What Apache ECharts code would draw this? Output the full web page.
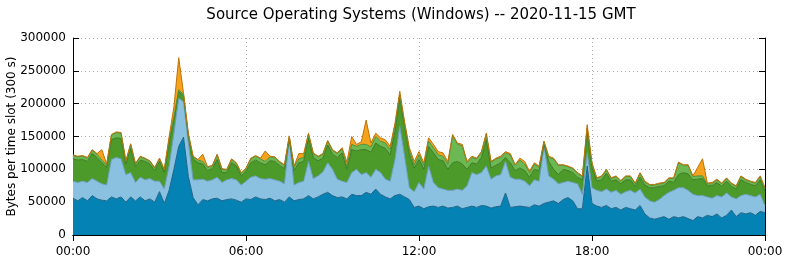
<!DOCTYPE html>
<html>
<head>
<meta charset="utf-8">
<script src="https://cdn.jsdelivr.net/npm/echarts@6/dist/echarts.min.js"></script>
<style>
html,body{margin:0;padding:0;background:#fff;}
#chart{width:786px;height:261px;}
</style>
</head>
<body>
<div id="chart"></div>
<script>
// Chart title / labels
var chartTitle = 'Source Operating Systems (Windows) -- 2020-11-15 GMT';
var yAxisTitle = 'Bytes per time slot (300 s)';
var xTickLabels = ['00:00', '06:00', '12:00', '18:00', '00:00'];

// Layer values (thousands of bytes) at 10-minute steps, 00:00 .. 24:00
var darkBlue = [56,52,57,52,60,55,53,52,58,55,58,50,58,52,58,52,55,50,66,48,68,100,135,149,89,57,46,54,52,55,56,52,54,55,53,50,55,54,58,55,54,56,52,54,50,58,52,54,55,60,55,58,62,65,60,57,58,55,62,60,60,65,62,70,62,58,55,60,62,58,54,42,44,40,43,44,42,44,41,42,44,40,42,44,42,45,44,41,43,44,64,42,43,44,43,42,46,44,48,50,52,48,54,57,52,40,40,105,48,44,42,45,40,42,38,42,40,38,45,32,26,24,26,28,24,28,26,28,25,22,28,26,30,28,32,26,30,38,28,34,32,34,30,36,34];
var lightBlue = [26,28,25,28,26,27,25,24,57,63,58,42,37,28,30,32,31,32,16,22,37,55,73,54,51,27,38,31,30,29,32,28,30,31,31,26,27,34,32,31,31,30,32,28,28,87,24,26,27,52,31,32,34,45,40,28,24,25,33,40,32,30,26,30,33,27,27,55,104,62,18,24,36,30,62,36,30,26,27,26,26,28,33,51,50,50,61,44,47,48,48,46,42,41,39,33,38,38,87,40,33,30,26,25,28,38,22,20,24,24,24,25,25,26,24,24,28,26,25,26,26,26,28,32,41,40,46,44,43,40,32,34,28,28,28,32,34,20,27,26,30,26,28,26,11];
var darkGreen = [34,34,33,32,38,36,32,27,30,30,31,16,37,24,26,28,22,16,30,25,35,20,10,9,10,32,26,23,16,17,27,15,11,24,21,14,15,22,24,24,22,27,28,24,23,1,22,30,30,36,32,23,21,27,23,33,43,20,35,28,38,35,38,40,40,47,40,43,42,45,50,36,35,30,30,45,43,43,32,42,42,40,25,15,16,23,40,17,16,18,6,22,13,17,16,13,16,16,3,22,15,14,20,16,15,10,22,30,30,14,18,24,17,16,16,18,16,10,18,18,20,22,20,15,17,12,20,23,25,22,25,26,17,19,20,16,18,16,15,24,18,17,17,22,21];
var lightGreen = [5,5,5,5,5,5,4,4,7,8,8,4,6,4,5,4,4,4,4,4,5,5,3,2,3,3,4,4,5,4,7,5,4,5,4,4,4,6,6,6,5,6,6,5,5,4,6,6,6,6,6,6,6,6,6,6,6,4,8,7,8,8,8,10,8,8,8,8,6,5,6,5,7,6,8,8,7,7,8,42,26,28,10,8,8,8,9,9,10,8,7,12,8,12,10,7,8,5,4,6,16,14,6,6,6,6,5,8,6,4,5,5,4,5,4,5,5,4,6,5,4,4,4,4,4,6,18,11,13,5,5,4,3,3,4,4,4,4,4,5,4,4,4,5,4];
var orange = [1,1,1,1,1,1,16,1,1,1,1,1,1,1,1,1,1,1,1,1,5,15,49,2,2,1,1,11,1,1,1,1,1,1,1,1,1,1,1,1,16,1,1,1,1,1,1,8,6,1,1,1,1,1,1,1,2,7,12,3,4,37,6,5,5,5,5,4,5,2,5,5,5,4,5,5,5,5,4,1,2,2,2,2,1,1,1,1,1,2,2,2,1,3,4,2,2,2,1,2,1,1,1,1,1,1,1,5,2,1,1,1,1,1,1,1,1,1,1,1,1,1,1,1,1,1,1,1,1,1,13,26,1,2,1,1,1,1,1,1,1,1,1,1,2];

var stepMinutes = 10;
var slotsPerTick = 36; // 6 hours / 10 minutes
var times = darkBlue.map(function (_, i) { return i * stepMinutes; });
var categories = times.map(function (t) {
  var h = Math.floor(t / 60) % 24, m = t % 60;
  return (h < 10 ? '0' : '') + h + ':' + (m < 10 ? '0' : '') + m;
});

var layers = [
  { name: 'darkBlue', data: darkBlue, fill: '#0582b4', line: '#1b6386' },
  { name: 'lightBlue', data: lightBlue, fill: '#8ac0e0', line: '#6b9dbc' },
  { name: 'darkGreen', data: darkGreen, fill: '#4c9a2a', line: '#3b7a22' },
  { name: 'lightGreen', data: lightGreen, fill: '#6cb852', line: '#4f8f3a' },
  { name: 'orange', data: orange, fill: '#f5a31c', line: '#c07208' }
];

var font = 'DejaVu Sans';
var chart = echarts.init(document.getElementById('chart'), null, { renderer: 'canvas' });

function onTick(index) { return index % slotsPerTick === 0; }

var option = {
  animation: false,
  backgroundColor: '#ffffff',
  title: {
    text: chartTitle,
    left: 416,
    textAlign: 'center',
    top: 3,
    textStyle: { fontFamily: font, fontSize: 15, fontWeight: 'normal', color: '#000' }
  },
  grid: { left: 73, right: 21, top: 38, bottom: 26, containLabel: false, outerBoundsMode: 'none' },
  xAxis: [{
    type: 'category', data: categories, boundaryGap: false,
    axisLine: { show: true, lineStyle: { color: '#000', width: 1 } },
    axisTick: { show: true, inside: true, length: 6, interval: onTick, lineStyle: { color: '#000' } },
    axisLabel: { interval: onTick, fontFamily: font, fontSize: 12, color: '#000', margin: 11 },
    splitLine: { show: true, interval: onTick, lineStyle: { color: '#aaaaaa', type: [1, 3], width: 1 } }
  }, {
    type: 'category', data: categories, boundaryGap: false, position: 'top',
    axisLine: { show: true, lineStyle: { color: '#000', width: 1 } },
    axisTick: { show: true, inside: true, length: 6, interval: onTick, lineStyle: { color: '#000' } },
    axisLabel: { show: false },
    splitLine: { show: false }
  }],
  yAxis: [{
    type: 'value', min: 0, max: 300000, interval: 50000,
    name: yAxisTitle, nameLocation: 'middle', nameGap: 55, nameMoveOverlap: false,
    nameTextStyle: { fontFamily: font, fontSize: 12, color: '#000' },
    axisLine: { show: true, lineStyle: { color: '#000', width: 1 } },
    axisTick: { show: true, inside: true, length: 6, lineStyle: { color: '#000' } },
    axisLabel: { fontFamily: font, fontSize: 12, color: '#000', margin: 7,
      formatter: function (v) { return String(v); } },
    splitLine: { show: true, lineStyle: { color: '#aaaaaa', type: [1, 3], width: 1 } }
  }, {
    type: 'value', min: 0, max: 300000, interval: 50000, position: 'right',
    axisLine: { show: true, lineStyle: { color: '#000', width: 1 } },
    axisTick: { show: true, inside: true, length: 6, lineStyle: { color: '#000' } },
    axisLabel: { show: false },
    splitLine: { show: false }
  }],
  series: layers.map(function (l) {
    return {
      name: l.name,
      type: 'line',
      stack: 'total',
      xAxisIndex: 0,
      yAxisIndex: 0,
      symbol: 'none',
      smooth: false,
      data: l.data.map(function (v) { return v * 1000; }),
      lineStyle: { color: l.line, width: 1 },
      itemStyle: { color: l.fill },
      areaStyle: { color: l.fill, opacity: 1 },
      z: 2
    };
  })
};
chart.setOption(option);
</script>
</body>
</html>
